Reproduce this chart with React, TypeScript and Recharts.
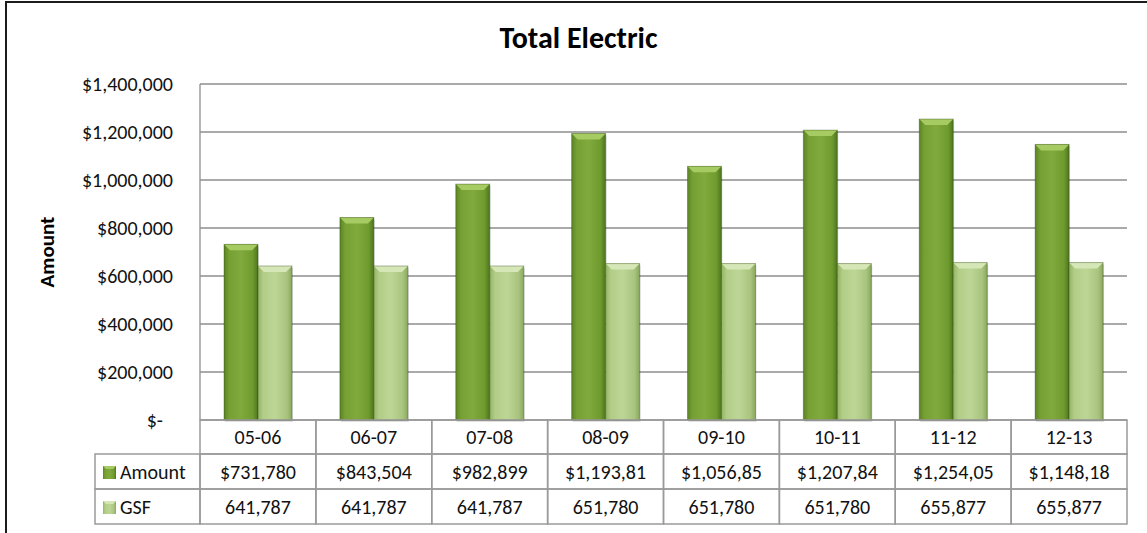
import { Bar, BarChart, CartesianGrid, XAxis, YAxis } from "recharts";

const categories = ["05-06", "06-07", "07-08", "08-09", "09-10", "10-11", "11-12", "12-13"];
const amount = [731780, 843504, 982899, 1193810, 1056850, 1207840, 1254050, 1148180];
const gsf = [641787, 641787, 641787, 651780, 651780, 651780, 655877, 655877];
const yTicks = [0, 200000, 400000, 600000, 800000, 1000000, 1200000, 1400000];

const data = categories.map((c, i) => ({ period: c, Amount: amount[i], GSF: gsf[i] }));

const W = 1147;
const H = 533;
const X_H = 113;
const M = { top: 84, right: 20, bottom: 0, left: 0 };
const Y_W = 200;
const COL_W = (W - M.right - Y_W) / categories.length;
const ROW_H = [34, 35, 35];
const FONT = "Carlito, Lato, sans-serif";
const FS = 20;
const GRID = "#8e8e8e";
const CELL = "#9a9a9a";

const money = (v: number) => "$" + v.toLocaleString("en-US");
// Excel clips the longer amounts at the cell edge
const clip = (s: string) => s.slice(0, 9);

function BevelBar(props: any) {
  const { x, y, width, height, gradId, capFill } = props;
  if (!height || height <= 0) return null;
  const b = 6;
  return (
    <g>
      <rect x={x + 1} y={y + 2} width={width} height={height} fill="rgba(0,0,0,0.12)" />
      <rect x={x} y={y} width={width} height={height} fill={`url(#${gradId})`} />
      <polygon
        points={`${x},${y} ${x + width},${y} ${x + width - b},${y + b} ${x + b},${y + b}`}
        fill={capFill}
      />
      <rect x={x} y={y} width={width} height={height} fill="none" stroke="rgba(40,60,10,0.35)" strokeWidth={1} />
    </g>
  );
}

function LegendKey({ x, y, gradId, cap }: { x: number; y: number; gradId: string; cap: string }) {
  return (
    <g>
      <rect x={x} y={y} width={13} height={13} fill={`url(#${gradId})`} />
      <polygon points={`${x},${y} ${x + 13},${y} ${x + 10},${y + 3} ${x + 3},${y + 3}`} fill={cap} />
    </g>
  );
}

function TableTick(props: any) {
  const { x, y, payload } = props;
  const i = payload.index;
  const left = x - COL_W / 2;
  const r1 = y;
  const r2 = r1 + ROW_H[0];
  const r3 = r2 + ROW_H[1];
  const text = { fontFamily: FONT, fontSize: FS, fill: "#111", textAnchor: "middle" as const };
  return (
    <g>
      <rect x={left} y={r1} width={COL_W} height={ROW_H[0]} fill="none" stroke={CELL} strokeWidth={1.5} />
      <rect x={left} y={r2} width={COL_W} height={ROW_H[1]} fill="none" stroke={CELL} strokeWidth={1.5} />
      <rect x={left} y={r3} width={COL_W} height={ROW_H[2]} fill="none" stroke={CELL} strokeWidth={1.5} />
      <text x={x} y={r1 + 24} {...text}>{categories[i]}</text>
      <text x={x} y={r2 + 25} {...text}>{clip(money(amount[i]))}</text>
      <text x={x} y={r3 + 25} {...text}>{gsf[i].toLocaleString("en-US")}</text>
      {i === 0 && (
        <g>
          <rect x={95} y={r2} width={left - 95} height={ROW_H[1]} fill="none" stroke={CELL} strokeWidth={1.5} />
          <rect x={95} y={r3} width={left - 95} height={ROW_H[2]} fill="none" stroke={CELL} strokeWidth={1.5} />
          <LegendKey x={103} y={r2 + 12} gradId="gAmount" cap="#a6cb62" />
          <LegendKey x={103} y={r3 + 12} gradId="gGsf" cap="#d5e7b6" />
          <text x={120} y={r2 + 25} fontFamily={FONT} fontSize={FS} fill="#111">Amount</text>
          <text x={120} y={r3 + 25} fontFamily={FONT} fontSize={FS} fill="#111">GSF</text>
        </g>
      )}
    </g>
  );
}

function MoneyTick(props: any) {
  const { x, y, payload } = props;
  const v = payload.value as number;
  return (
    <text x={v === 0 ? x - 10 : x} y={y + 7} textAnchor="end" fontFamily={FONT} fontSize={FS} fill="#111">
      {v === 0 ? "$-" : money(v)}
    </text>
  );
}

export default function App() {
  return (
    <div style={{ position: "fixed", left: 0, top: 0, width: W, height: H, background: "#fff" }}>
      <div
        style={{
          position: "absolute",
          left: 5,
          top: 1,
          width: W,
          height: H,
          borderLeft: "2px solid #1c1c1c",
          borderTop: "2px solid #1c1c1c",
        }}
      />
      <div
        style={{
          position: "absolute",
          left: 0,
          width: W,
          top: 20,
          textAlign: "center",
          paddingLeft: 10,
          boxSizing: "border-box",
          fontFamily: FONT,
          fontWeight: 700,
          fontSize: 30,
          lineHeight: "36px",
          color: "#000",
        }}
      >
        Total Electric
      </div>
      <div style={{ position: "absolute", left: 0, top: 0 }}>
        <BarChart width={W} height={H} data={data} margin={M} barGap={0} barSize={34}>
          <defs>
            <linearGradient id="gAmount" x1="0" y1="0" x2="1" y2="0">
              <stop offset="0" stopColor="#5a8424" />
              <stop offset="0.15" stopColor="#76a033" />
              <stop offset="0.5" stopColor="#80aa3c" />
              <stop offset="0.85" stopColor="#6f9a2e" />
              <stop offset="1" stopColor="#4d7420" />
            </linearGradient>
            <linearGradient id="gGsf" x1="0" y1="0" x2="1" y2="0">
              <stop offset="0" stopColor="#94b366" />
              <stop offset="0.15" stopColor="#b2cd86" />
              <stop offset="0.5" stopColor="#bdd697" />
              <stop offset="0.85" stopColor="#a9c47e" />
              <stop offset="1" stopColor="#8aa85e" />
            </linearGradient>
          </defs>
          <CartesianGrid vertical={false} stroke={GRID} strokeWidth={1.3} />
          <XAxis
            dataKey="period"
            axisLine={false}
            tickLine={false}
            tickSize={0}
            tickMargin={0}
            height={X_H}
            interval={0}
            tick={<TableTick />}
          />
          <YAxis
            width={Y_W}
            domain={[0, 1400000]}
            ticks={yTicks}
            axisLine={{ stroke: GRID, strokeWidth: 1.3 }}
            tickLine={false}
            tickSize={0}
            tickMargin={27}
            tick={<MoneyTick />}
            label={{
              value: "Amount",
              angle: -90,
              position: "insideLeft",
              offset: 47,
              style: { fontFamily: FONT, fontSize: 21, fontWeight: 700, fill: "#000", textAnchor: "middle" },
            }}
          />
          <Bar dataKey="Amount" isAnimationActive={false} shape={<BevelBar gradId="gAmount" capFill="#a6cb62" />} />
          <Bar dataKey="GSF" isAnimationActive={false} shape={<BevelBar gradId="gGsf" capFill="#d5e7b6" />} />
        </BarChart>
      </div>
    </div>
  );
}
